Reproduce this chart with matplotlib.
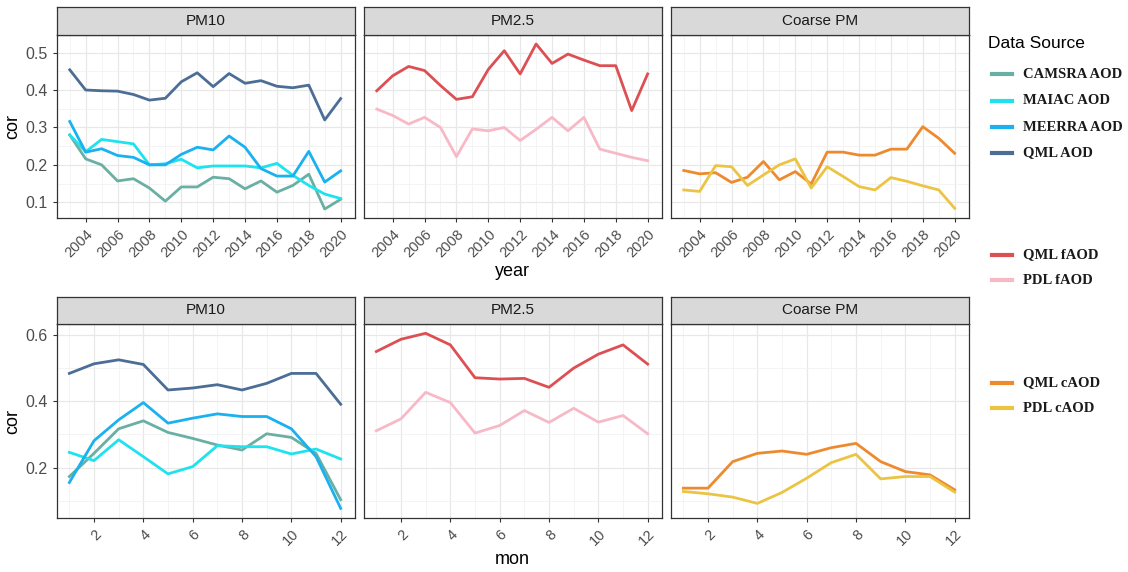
import matplotlib.pyplot as plt
from matplotlib.lines import Line2D
import numpy as np

plt.rcParams['font.family'] = ['Liberation Sans', 'DejaVu Sans']

years = list(range(2003, 2021))
months = list(range(1, 13))

# yearly correlations, PM10 panel
camsra_y = [0.28, 0.216, 0.200, 0.157, 0.163, 0.138, 0.103, 0.141, 0.141, 0.167, 0.163, 0.136, 0.157, 0.127, 0.145, 0.175, 0.082, 0.108]
maiac_y = [0.28, 0.235, 0.268, 0.262, 0.256, 0.200, 0.203, 0.215, 0.192, 0.197, 0.197, 0.197, 0.192, 0.204, 0.172, 0.145, 0.122, 0.110]
meerra_y = [0.316, 0.234, 0.243, 0.225, 0.220, 0.200, 0.200, 0.228, 0.247, 0.240, 0.277, 0.247, 0.190, 0.170, 0.170, 0.236, 0.154, 0.184]
qml_y = [0.454, 0.400, 0.398, 0.397, 0.388, 0.373, 0.378, 0.422, 0.446, 0.409, 0.444, 0.418, 0.425, 0.410, 0.406, 0.413, 0.320, 0.377]
# PM2.5 panel
qml_f_y = [0.398, 0.438, 0.463, 0.452, 0.412, 0.375, 0.382, 0.455, 0.505, 0.443, 0.523, 0.471, 0.496, 0.480, 0.465, 0.465, 0.345, 0.443]
pdl_f_y = [0.349, 0.332, 0.309, 0.327, 0.300, 0.222, 0.296, 0.291, 0.300, 0.265, 0.295, 0.327, 0.291, 0.327, 0.242, 0.231, 0.220, 0.211]
# Coarse PM panel
qml_c_y = [0.185, 0.176, 0.179, 0.153, 0.167, 0.209, 0.160, 0.182, 0.149, 0.234, 0.234, 0.226, 0.226, 0.242, 0.242, 0.302, 0.271, 0.231]
pdl_c_y = [0.133, 0.129, 0.198, 0.195, 0.145, 0.173, 0.200, 0.216, 0.138, 0.195, 0.169, 0.142, 0.133, 0.166, 0.156, 0.144, 0.133, 0.084]

# monthly correlations
camsra_m = [0.173, 0.243, 0.317, 0.341, 0.306, 0.288, 0.268, 0.253, 0.302, 0.291, 0.243, 0.103]
maiac_m = [0.246, 0.221, 0.284, 0.233, 0.181, 0.203, 0.266, 0.263, 0.263, 0.241, 0.256, 0.226]
meerra_m = [0.155, 0.281, 0.344, 0.396, 0.334, 0.349, 0.362, 0.354, 0.354, 0.317, 0.233, 0.077]
qml_m = [0.484, 0.513, 0.525, 0.511, 0.434, 0.440, 0.450, 0.434, 0.454, 0.484, 0.484, 0.391]
qml_f_m = [0.550, 0.587, 0.605, 0.570, 0.471, 0.467, 0.469, 0.442, 0.500, 0.542, 0.570, 0.512]
pdl_f_m = [0.311, 0.347, 0.427, 0.396, 0.304, 0.327, 0.372, 0.336, 0.379, 0.337, 0.357, 0.302]
qml_c_m = [0.138, 0.138, 0.218, 0.243, 0.250, 0.240, 0.260, 0.273, 0.218, 0.188, 0.178, 0.133]
pdl_c_m = [0.128, 0.121, 0.111, 0.092, 0.125, 0.168, 0.215, 0.240, 0.166, 0.173, 0.173, 0.126]

panels = ["PM10", "PM2.5", "Coarse PM"]
colors = {
    "CAMSRA AOD": "#6aafa3",
    "MAIAC AOD": "#1ee3ee",
    "MEERRA AOD": "#19b1ef",
    "QML AOD": "#4b6d96",
    "QML fAOD": "#dc5054",
    "PDL fAOD": "#f8b9c6",
    "QML cAOD": "#ee8a2e",
    "PDL cAOD": "#ecc444",
}

yearly = [
    [("CAMSRA AOD", camsra_y), ("MAIAC AOD", maiac_y), ("MEERRA AOD", meerra_y), ("QML AOD", qml_y)],
    [("QML fAOD", qml_f_y), ("PDL fAOD", pdl_f_y)],
    [("QML cAOD", qml_c_y), ("PDL cAOD", pdl_c_y)],
]
monthly = [
    [("CAMSRA AOD", camsra_m), ("MAIAC AOD", maiac_m), ("MEERRA AOD", meerra_m), ("QML AOD", qml_m)],
    [("QML fAOD", qml_f_m), ("PDL fAOD", pdl_f_m)],
    [("QML cAOD", qml_c_m), ("PDL cAOD", pdl_c_m)],
]

W, H = 1128, 572
fig = plt.figure(figsize=(W / 100, H / 100), dpi=100)


def px(x0, y0, x1, y1):
    return [x0 / W, 1 - y1 / H, (x1 - x0) / W, (y1 - y0) / H]


cols = [(57, 355), (364, 662), (671, 969)]


def draw_row(top, bottom, strip_top, data, x, xlim, xmaj, xmin_, ylim, ymaj, ymin_):
    for i, (x0, x1) in enumerate(cols):
        ax = fig.add_axes(px(x0, top, x1, bottom))
        ax.set_facecolor("white")
        ax.set_xlim(*xlim)
        ax.set_ylim(*ylim)
        ax.set_xticks(xmaj)
        ax.set_xticks(xmin_, minor=True)
        ax.set_yticks(ymaj)
        ax.set_yticks(ymin_, minor=True)
        ax.grid(True, which="major", color="#e8e8e8", lw=0.9)
        ax.grid(True, which="minor", color="#f2f2f2", lw=0.6)
        ax.set_axisbelow(True)
        for s in ax.spines.values():
            s.set_color("#333333")
            s.set_linewidth(0.9)
        ax.tick_params(which="minor", length=0)
        ax.tick_params(which="major", length=3, color="#333333", labelsize=10.5, labelcolor="#4d4d4d")
        ax.set_xticklabels([str(v) for v in xmaj], rotation=45, ha="right", rotation_mode="anchor")
        if i == 0:
            ax.set_yticklabels(["%.1f" % v for v in ymaj])
            ax.tick_params(axis="y", labelsize=11.5)
            ax.set_ylabel("cor", fontsize=13, labelpad=3)
        else:
            ax.tick_params(axis="y", labelleft=False, length=0)
        for name, vals in data[i]:
            ax.plot(x, vals, color=colors[name], lw=2.0, solid_joinstyle="round")
        sax = fig.add_axes(px(x0, strip_top, x1, top))
        sax.set_facecolor("#d9d9d9")
        sax.set_xticks([])
        sax.set_yticks([])
        for s in sax.spines.values():
            s.set_color("#333333")
            s.set_linewidth(0.9)
        sax.text(0.5, 0.5, panels[i], ha="center", va="center", fontsize=11, color="#1a1a1a",
                 transform=sax.transAxes)


draw_row(35, 218, 7, yearly, years, (2002.2, 2020.9), list(range(2004, 2021, 2)), list(range(2003, 2021, 2)),
         (0.058, 0.547), [0.1, 0.2, 0.3, 0.4, 0.5], [0.15, 0.25, 0.35, 0.45])
draw_row(324, 518, 297, monthly, months, (0.5, 12.58), list(range(2, 13, 2)), list(range(1, 13, 2)),
         (0.048, 0.633), [0.2, 0.4, 0.6], [0.1, 0.3, 0.5])

fig.text(512 / W, 1 - 271 / H, "year", ha="center", va="center", fontsize=13)
fig.text(512 / W, 1 - 559 / H, "mon", ha="center", va="center", fontsize=13)

# legend
fig.text(988 / W, 1 - 43 / H, "Data Source", ha="left", va="center", fontsize=12.5)
leg_rows = [("CAMSRA AOD", 74), ("MAIAC AOD", 101), ("MEERRA AOD", 127), ("QML AOD", 153),
            ("QML fAOD", 255), ("PDL fAOD", 280), ("QML cAOD", 383), ("PDL cAOD", 408)]
for name, yy in leg_rows:
    fig.add_artist(Line2D([992 / W, 1012 / W], [1 - yy / H, 1 - yy / H], color=colors[name], lw=3))
    fig.text(1023 / W, 1 - yy / H, name, ha="left", va="center", fontsize=10.5,
             family="Liberation Serif", weight="bold", color="#1a1a1a")

fig.savefig("out.png", dpi=100)
